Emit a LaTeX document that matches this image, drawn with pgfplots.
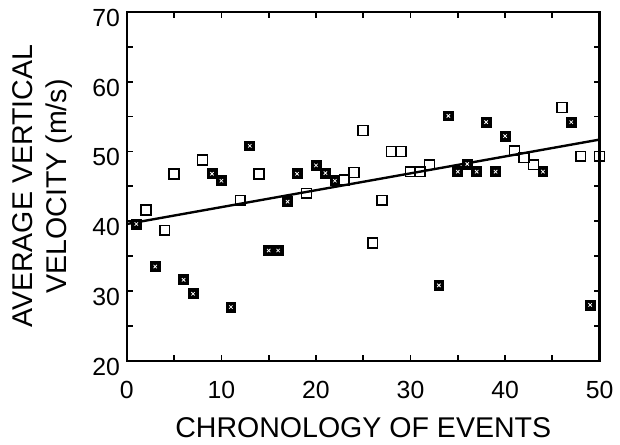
\documentclass[border=0pt]{standalone}
\usepackage{fontspec}
\setmainfont{Liberation Sans}
\usepackage{pgfplots}
\usepackage{pgfplotstable}
\pgfplotsset{compat=1.18}
\usetikzlibrary{calc}

% open squares
\pgfplotstableread{
x y
2 41.6
4 38.7
5 46.8
8 48.8
12 43.0
14 46.8
19 44.0
23 45.9
24 47.0
25 53.0
26 36.9
27 43.0
28 50.0
29 50.0
30 47.1
31 47.1
32 48.1
41 50.1
42 49.1
43 48.1
46 56.3
48 49.3
50 49.3
}\opendata

% filled squares
\pgfplotstableread{
x y
1 39.6
3 33.5
6 31.6
7 29.6
9 46.8
10 45.8
11 27.7
13 50.8
15 35.8
16 35.8
17 42.8
18 46.8
20 48.0
21 46.9
22 45.8
33 30.8
34 55.1
35 47.1
36 48.2
37 47.1
38 54.2
39 47.1
40 52.2
44 47.1
47 54.2
49 28.0
}\filldata

\begin{document}
\begin{tikzpicture}
\begin{axis}[name=ax,
scale only axis,
width=238.5pt, height=176pt,
xmin=0, xmax=50, ymin=20, ymax=70,
xtick={0,10,...,50}, ytick={20,30,...,70},
minor xtick={5,15,...,45}, minor ytick={25,35,...,65},
tick align=inside,
major tick length=3pt, minor tick length=3pt,
tick style={black, line width=0.9pt},
axis line style={line width=1.2pt},
/pgf/number format/assume math mode=true,
ticklabel style={font=\fontsize{12.5}{14}\selectfont},
xticklabel style={yshift=-7pt},
yticklabel style={yshift=-3pt},
xlabel={CHRONOLOGY OF EVENTS},
ylabel={AVERAGE VERTICAL\\VELOCITY (m/s)},
label style={font=\fontsize{14.4}{17}\selectfont, align=center},
xlabel style={at={(axis description cs:0.5,0)}, anchor=north, yshift=-25pt},
ylabel style={at={(axis description cs:-0.1006,0.5)}, anchor=south},
]
\addplot[black, line width=1.2pt] coordinates {(0,39.6) (50,51.7)};
\addplot[only marks, mark=square, mark size=2.5pt, mark options={line width=0.8pt, fill=white}, black] table {\opendata};
\addplot[only marks, mark=square*, mark size=2.5pt, black] table {\filldata};
\addplot[only marks, mark=x, mark size=1.2pt, mark options={line width=0.4pt}, white] table {\filldata};
\end{axis}
\path ($(ax.south west)+(-64pt,-40.5pt)$) rectangle ($(ax.north east)+(7.5pt,6pt)$);
\end{tikzpicture}
\end{document}
